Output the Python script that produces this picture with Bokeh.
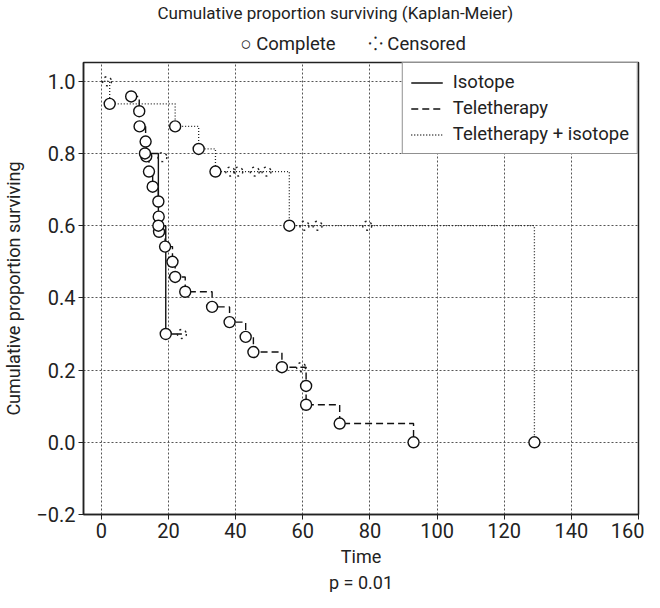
from bokeh.plotting import figure
from bokeh.models import (Range1d, FixedTicker, CustomJSTickFormatter, Legend,
                          LegendItem, Title)
from bokeh.embed import file_html
from bokeh.resources import INLINE

FONT = "Roboto"

# ---------------- data ----------------
x_ticks = [0, 20, 40, 60, 80, 100, 120, 140, 160]
y_ticks = [-0.2, 0.0, 0.2, 0.4, 0.6, 0.8, 1.0]

series_names = ["Isotope", "Teletherapy", "Teletherapy + isotope"]

# Isotope (solid)
iso_event_time = [13.0, 17.0, 19.2]
iso_event_surv = [0.8, 0.6, 0.3]
iso_end_time = [24.0]
iso_end_surv = [0.3]
iso_cens_time = [18.2, 24.0]
iso_cens_surv = [0.79, 0.3]

# Teletherapy (dashed)
tele_event_time = [8.9, 11.3, 11.4, 13.2, 13.4, 14.2, 15.3, 17.0, 17.1, 17.2,
                   19.0, 21.2, 22.0, 25.0, 33.0, 38.2, 43.0, 45.3, 53.8, 61.0,
                   61.0, 71.0, 93.0]
tele_event_surv = [0.958, 0.917, 0.875, 0.833, 0.792, 0.75, 0.708, 0.667,
                   0.625, 0.583, 0.542, 0.5, 0.458, 0.417, 0.375, 0.333, 0.292,
                   0.25, 0.208, 0.156, 0.104, 0.052, 0.0]
tele_cens_time = [59.5]
tele_cens_surv = [0.208]

# Teletherapy + isotope (dotted)
ti_start_time = [0.0]
ti_start_surv = [1.0]
ti_event_time = [2.5, 22.0, 29.0, 34.0, 56.0, 129.0]
ti_event_surv = [0.9375, 0.875, 0.8125, 0.75, 0.6, 0.0]
ti_cens_time = [1.7, 38.4, 40.8, 45.7, 49.2, 60.5, 64.4, 79.2]
ti_cens_surv = [1.0, 0.75, 0.75, 0.75, 0.75, 0.6, 0.6, 0.6]

# ---------------- figure ----------------
p = figure(width=644, height=592, output_backend="svg",
           toolbar_location=None, title=None,
           x_range=Range1d(-5.3, 160), y_range=Range1d(-0.2, 1.052),
           min_border_left=77, min_border_right=6, min_border_top=56,
           min_border_bottom=72, background_fill_color="white",
           border_fill_color="white")

p.outline_line_color = "#222222"
p.outline_line_width = 1.5

for ax in (p.xaxis[0], p.yaxis[0]):
    ax.axis_line_color = "#222222"
    ax.axis_line_width = 1.5
    ax.major_tick_line_color = "#222222"
    ax.major_tick_out = 5
    ax.major_tick_in = 0
    ax.minor_tick_line_color = None
    ax.major_label_text_font = FONT
    ax.major_label_text_font_size = "20px"
    ax.major_label_text_color = "#222222"
    ax.axis_label_text_font = FONT
    ax.axis_label_text_font_size = "18px"
    ax.axis_label_text_font_style = "normal"
    ax.axis_label_text_color = "#222222"

p.xaxis.ticker = FixedTicker(ticks=x_ticks)
p.yaxis.ticker = FixedTicker(ticks=y_ticks)
p.yaxis.formatter = CustomJSTickFormatter(
    code="return tick.toFixed(1).replace('-', '\\u2212')")
p.xaxis.major_label_standoff = 3
p.yaxis.major_label_standoff = 3
p.xaxis.axis_label = "Time"
p.yaxis.axis_label = "Cumulative proportion surviving"
p.xaxis.axis_label_standoff = 5
p.yaxis.axis_label_standoff = 9

for g in (p.xgrid[0], p.ygrid[0]):
    g.grid_line_color = "#555555"
    g.grid_line_dash = "2 2"
    g.grid_line_width = 1
p.xgrid.ticker = FixedTicker(ticks=x_ticks)
p.ygrid.ticker = FixedTicker(ticks=y_ticks)

# ---------------- curves ----------------
r_iso = p.step(iso_event_time + iso_end_time, iso_event_surv + iso_end_surv,
               mode="after", line_color="#111111", line_width=1.4)
r_tele = p.step(tele_event_time, tele_event_surv, mode="after",
                line_color="#111111", line_width=1.4, line_dash="7 4")
r_ti = p.step(ti_start_time + ti_event_time, ti_start_surv + ti_event_surv,
              mode="after", line_color="#222222", line_width=1.3,
              line_dash="1 2")

# censored marks
cens_kw = dict(marker="circle", size=9, fill_color=None, line_color="#222222",
               line_width=1.4, line_dash="2 4")
p.scatter(iso_cens_time, iso_cens_surv, **cens_kw)
p.scatter(tele_cens_time, tele_cens_surv, **cens_kw)
p.scatter(ti_cens_time, ti_cens_surv, **cens_kw)

# complete (event) marks
ev_kw = dict(marker="circle", size=11, fill_color="white",
             line_color="#111111", line_width=1.4)
p.scatter(tele_event_time, tele_event_surv, **ev_kw)
p.scatter(iso_event_time, iso_event_surv, **ev_kw)
p.scatter(ti_event_time, ti_event_surv, **ev_kw)

legend = Legend(items=[LegendItem(label=series_names[0], renderers=[r_iso]),
                       LegendItem(label=series_names[1], renderers=[r_tele]),
                       LegendItem(label=series_names[2], renderers=[r_ti])],
                location="top_right", margin=0, padding=8, spacing=4,
                glyph_width=32, glyph_height=21, label_height=21,
                label_standoff=10, label_text_font=FONT,
                label_text_font_size="18.5px", label_text_color="#222222",
                border_line_color="#222222", border_line_width=1.2,
                background_fill_color="white", background_fill_alpha=1)
p.add_layout(legend)

# titles
NB = "\u00a0"
sub = Title(text="\u25CB Complete" + NB * 7 + "\u2058 Censored", align="left",
            offset=157, text_font=FONT, text_font_size="18.5px",
            text_font_style="normal", text_color="#222222", standoff=16)
p.add_layout(sub, "above")
main = Title(text="Cumulative proportion surviving (Kaplan-Meier)",
             align="left", offset=74, text_font=FONT, text_font_size="17px",
             text_font_style="normal", text_color="#222222", standoff=0)
p.add_layout(main, "above")

pval = Title(text="p = 0.01", align="center", text_font=FONT,
             text_font_size="18px", text_font_style="normal",
             text_color="#222222", standoff=0)
p.add_layout(pval, "below")

open("out.html", "w").write(file_html(p, INLINE))
